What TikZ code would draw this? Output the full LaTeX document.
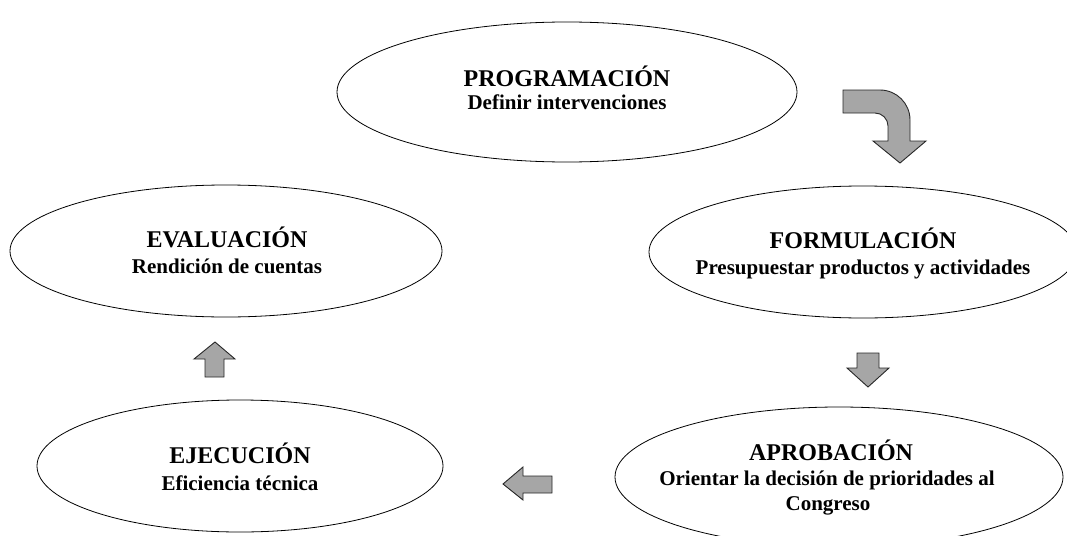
\documentclass[tikz,border=0pt]{standalone}
\usepackage{fontspec}
\setmainfont{Liberation Serif}
\usetikzlibrary{shapes.geometric}
\definecolor{arrowgray}{RGB}{166,166,166}
\definecolor{edgegray}{RGB}{40,40,40}
\tikzset{
  phase/.style={ellipse, draw=black, line width=0.8pt, inner sep=0pt},
  ttl/.style={anchor=base, inner sep=0pt, font=\fontsize{24}{26}\selectfont\bfseries},
  sub/.style={anchor=base, inner sep=0pt, font=\fontsize{21}{25}\selectfont\bfseries},
  blockarrow/.style={fill=arrowgray, draw=edgegray, line width=0.9pt, line join=miter}
}
\begin{document}
\begin{tikzpicture}[x=1pt,y=-1pt]
\useasboundingbox (0,0) rectangle (1067,535);
\clip (0,0) rectangle (1067,535);
% ellipses
\node[phase, minimum width=460pt, minimum height=140pt] (prog) at (567,92) {};
\node[phase, minimum width=432pt, minimum height=132pt] (eval) at (226,251) {};
\node[phase, minimum width=428pt, minimum height=132pt] (form) at (863,252) {};
\node[phase, minimum width=406pt, minimum height=132pt] (ejec) at (240,466) {};
\node[phase, minimum width=448pt, minimum height=140pt] (apro) at (839,477) {};
% texts
\node[ttl] (progT) at (567,86) {PROGRAMACIÓN};
\node[sub] (progS) at (567,109) {Definir intervenciones};
\node[ttl] (evalT) at (227,247) {EVALUACIÓN};
\node[sub] (evalS) at (227,273) {Rendición de cuentas};
\node[ttl] (formT) at (863,248) {FORMULACIÓN};
\node[sub] (formS) at (863,274) {Presupuestar productos y actividades};
\node[ttl] (ejecT) at (240,463) {EJECUCIÓN};
\node[sub] (ejecS) at (240,490) {Eficiencia técnica};
\node[ttl] (aproT) at (831,460) {APROBACIÓN};
\node[sub] (aproS) at (827,485) {Orientar la decisión de prioridades al};
\node[sub] (aproS2) at (828,510) {Congreso};
% curved arrow
\draw[blockarrow] (843,90) -- (880,90) .. controls (896.6,90) and (910,103.4) .. (910,120)
  -- (910,141) -- (926,141) -- (900,163) -- (873,141) -- (888,141) -- (888,126)
  .. controls (888,118.8) and (882.2,113) .. (875,113) -- (843,113) -- cycle;
% down arrow
\draw[blockarrow] (857,353) -- (879,353) -- (879,368) -- (889,368) -- (868,387)
  -- (847,368) -- (857,368) -- cycle;
% left arrow
\draw[blockarrow] (552,476) -- (523,476) -- (523,467) -- (503,484) -- (523,500)
  -- (523,493) -- (552,493) -- cycle;
% up arrow
\draw[blockarrow] (205,377) -- (205,359) -- (194,359) -- (215,342) -- (235,359)
  -- (224,359) -- (224,377) -- cycle;
\end{tikzpicture}
\end{document}
